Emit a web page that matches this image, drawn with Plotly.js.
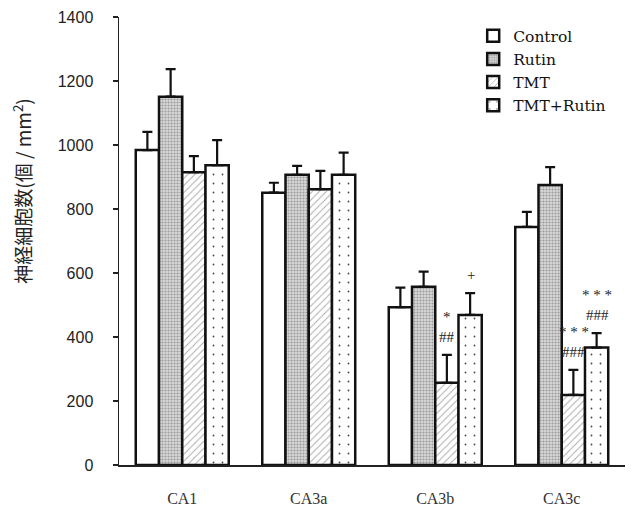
<!DOCTYPE html>
<html>
<head>
<meta charset="utf-8">
<script src="https://cdn.plot.ly/plotly-3.0.1.min.js"></script>
<style>html,body{margin:0;padding:0;background:#fff;}#chart{width:634px;height:514px;}</style>
</head>
<body>
<div id="chart"></div>
<script>
const categories = ['CA1', 'CA3a', 'CA3b', 'CA3c'];
const seriesNames = ['Control', 'Rutin', 'TMT', 'TMT+Rutin'];
const controlVals = [984, 851, 493, 744];
const controlErr = [57, 31, 61, 47];
const rutinVals = [1151, 907, 557, 875];
const rutinErr = [86, 28, 47, 56];
const tmtVals = [915, 862, 257, 219];
const tmtErr = [50, 57, 87, 78];
const tmtRutinVals = [937, 907, 469, 367];
const tmtRutinErr = [78, 69, 68, 45];
const yTickVals = [0, 200, 400, 600, 800, 1000, 1200, 1400];
const yTitle = '神経細胞数(個 / mm<sup>2</sup>)';

// significance marks: [category, series index, lines (top to bottom)]
const sigCategory = ['CA3b', 'CA3b', 'CA3c', 'CA3c'];
const sigSeries = [2, 3, 2, 3];
const sigText = [['*', '##'], ['+'], ['* * *', '###'], ['* * *', '###']];

const vals = [controlVals, rutinVals, tmtVals, tmtRutinVals];
const errs = [controlErr, rutinErr, tmtErr, tmtRutinErr];
const patterns = [
  {shape: '', bgcolor: '#ffffff'},
  {shape: '.', bgcolor: '#d8d8d8', fgcolor: '#9a9a9a', size: 3, solidity: 0.4},
  {shape: '/', bgcolor: '#ffffff', fgcolor: '#a8a8a8', size: 5, solidity: 0.18},
  {shape: '.', bgcolor: '#ffffff', fgcolor: '#444444', size: 9, solidity: 0.03}
];

const traces = seriesNames.map((name, i) => ({
  type: 'bar',
  name: name,
  x: categories,
  y: vals[i],
  error_y: {type: 'data', array: errs[i], arrayminus: errs[i].map(() => 0), symmetric: false,
            color: '#111', thickness: 2.2, width: 5},
  marker: {color: '#ffffff', line: {color: '#111', width: 2.5}, pattern: patterns[i]},
  hoverinfo: 'none'
}));

const annotations = [];
sigCategory.forEach((cat, k) => {
  const ci = categories.indexOf(cat);
  const si = sigSeries[k];
  const top = vals[si][ci] + errs[si][ci];
  const lines = sigText[k];
  lines.forEach((t, j) => {
    annotations.push({
      x: cat, y: top, xref: 'x', yref: 'y',
      text: t, showarrow: false,
      xshift: (si - 1.5) * 23.5,
      yshift: 18 + (lines.length - 1 - j) * 20,
      font: {family: 'Liberation Serif, serif', size: 15, color: '#222222'}
    });
  });
});
annotations.push({
  xref: 'paper', yref: 'paper', x: -0.192, y: 0.612,
  xanchor: 'center', yanchor: 'middle',
  text: yTitle, textangle: -90, showarrow: false,
  font: {family: 'Noto Sans CJK JP, sans-serif', size: 19, color: '#222'}
});

const layout = {
  width: 634, height: 514,
  margin: {l: 119, r: 9, t: 17, b: 49},
  paper_bgcolor: '#fff', plot_bgcolor: '#fff',
  barmode: 'group', bargap: 0.265, bargroupgap: 0,
  showlegend: true,
  legend: {x: 0.7, y: 0.995, xanchor: 'left', yanchor: 'top', bgcolor: 'rgba(0,0,0,0)',
           font: {family: 'DejaVu Serif, serif', size: 15.5, color: '#111'},
           itemwidth: 30, tracegroupgap: 0},
  xaxis: {
    type: 'category', range: [-0.5, 3.5],
    showline: true, linecolor: '#222', linewidth: 1.5,
    ticks: '', showgrid: false, zeroline: false,
    tickfont: {family: 'Liberation Serif, serif', size: 16, color: '#333'},
    ticklabelstandoff: 18
  },
  yaxis: {
    range: [0, 1400], tickvals: yTickVals,
    showline: true, linecolor: '#222', linewidth: 1.5,
    ticks: 'outside', ticklen: 5, tickwidth: 1.2, tickcolor: '#222',
    showgrid: false, zeroline: false,
    tickfont: {family: 'Liberation Sans, Arial, sans-serif', size: 16, color: '#222'},
    ticklabelstandoff: 16
  },
  annotations: annotations
};

Plotly.newPlot('chart', traces, layout, {staticPlot: true});
</script>
</body>
</html>
